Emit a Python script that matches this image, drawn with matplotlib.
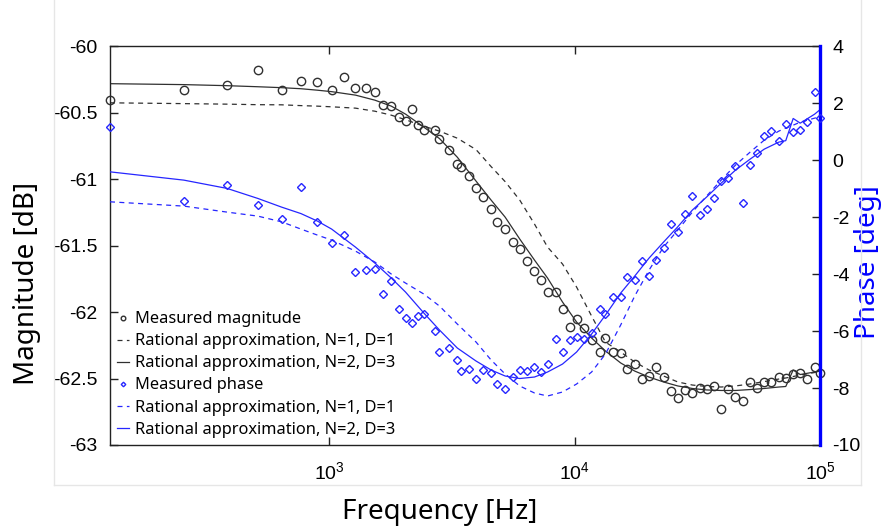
import numpy as np
import matplotlib.pyplot as plt
from matplotlib.lines import Line2D
from matplotlib.ticker import LogLocator, NullLocator, FuncFormatter

plt.rcParams['font.family'] = ['Liberation Sans', 'DejaVu Sans']
plt.rcParams['mathtext.fontset'] = 'custom'
plt.rcParams['mathtext.rm'] = 'Liberation Sans'
plt.rcParams['mathtext.it'] = 'Liberation Sans:italic'
plt.rcParams['mathtext.default'] = 'regular'

# measured frequencies [Hz]
freq = [128, 256, 384, 512, 640, 768, 896, 1024,
        1152, 1280, 1408, 1536, 1664, 1792, 1920, 2048, 2176, 2304, 2432,
        2688, 2816, 3072, 3328, 3456, 3712, 3968, 4224,
        4571, 4850, 5214, 5605, 5980, 6371, 6866, 7264, 7759, 8405, 8933, 9559,
        10190, 10940, 11730, 12650, 13360, 14360, 15410, 16410, 17580, 18860,
        20110, 21520, 23040, 24700, 26330, 28180, 30180, 32320, 34480, 36930,
        39550, 42280, 45240, 48360, 51890, 55420, 59250, 63290, 67880, 72510,
        77730, 83040, 88770, 95060, 100000]

mag_meas = [-60.401, -60.331, -60.291, -60.180, -60.326, -60.261, -60.271, -60.331,
            -60.235, -60.311, -60.311, -60.348, -60.444, -60.449, -60.536, -60.562,
            -60.476, -60.594, -60.632, -60.629, -60.698, -60.782, -60.889, -60.910,
            -60.976, -61.065, -61.135, -61.227, -61.323, -61.376, -61.474, -61.529,
            -61.613, -61.688, -61.756, -61.851, -61.851, -61.977, -62.113, -62.053,
            -62.120, -62.211, -62.302, -62.193, -62.302, -62.305, -62.427, -62.389,
            -62.502, -62.481, -62.410, -62.486, -62.592, -62.649, -62.590, -62.611,
            -62.573, -62.581, -62.554, -62.728, -62.580, -62.639, -62.668, -62.529,
            -62.570, -62.524, -62.523, -62.485, -62.498, -62.464, -62.462, -62.502,
            -62.410, -62.456]

phase_meas = [1.147, -1.432, -0.884, -1.561, -2.053, -0.930, -2.175, -2.905,
              -2.614, -3.937, -3.842, -3.807, -4.709, -4.235, -5.235, -5.554,
              -5.726, -5.474, -5.404, -5.989, -6.744, -6.589, -7.018, -7.393,
              -7.333, -7.684, -7.368, -7.463, -7.870, -8.025, -7.604, -7.368,
              -7.386, -7.256, -7.432, -7.140, -6.270, -6.726, -6.323, -6.200,
              -6.291, -6.081, -5.218, -5.404, -4.796, -4.796, -4.105, -4.211,
              -3.544, -4.081, -3.509, -3.095, -2.253, -2.516, -1.902, -1.256,
              -1.912, -1.730, -1.340, -0.719, -0.621, -0.211, -1.509, -0.186,
              0.235, 0.860, 1.011, 0.674, 1.256, 0.982, 1.053, 1.333,
              2.386, 1.484]

# frequencies where the fitted curves were read
fit_freq = [128, 256, 384, 512, 640, 768, 896, 1024, 1280, 1536, 1792, 2048,
            2432, 2816, 3328, 3968, 4571, 5214, 5980, 6866, 7759, 8933,
            10190, 11730, 13360, 15410, 17580, 20110, 23040, 26330, 30180, 34480,
            39550, 45240, 51890, 59250, 67880, 72510, 77730, 83040, 95060, 100000]

mag_fit_11 = [-60.426, -60.432, -60.436, -60.440, -60.441, -60.447, -60.451, -60.456,
              -60.466, -60.489, -60.519, -60.553, -60.602, -60.639, -60.692, -60.778,
              -60.906, -61.019, -61.158, -61.338, -61.511, -61.639, -61.812, -62.030,
              -62.226, -62.301, -62.376, -62.436, -62.481, -62.526, -62.549, -62.560,
              -62.564, -62.556, -62.541, -62.523, -62.504, -62.496, -62.485, -62.474,
              -62.455, -62.444]

mag_fit_23 = [-60.282, -60.289, -60.297, -60.305, -60.312, -60.320, -60.331, -60.342,
              -60.368, -60.406, -60.451, -60.511, -60.609, -60.695, -60.835, -61.015,
              -61.158, -61.286, -61.451, -61.609, -61.744, -61.925, -62.075, -62.195,
              -62.293, -62.383, -62.444, -62.489, -62.526, -62.556, -62.575, -62.586,
              -62.590, -62.590, -62.583, -62.575, -62.564, -62.560, -62.436, -62.470,
              -62.451, -62.444]

phase_fit_11 = [-1.463, -1.614, -1.825, -1.965, -2.165, -2.421, -2.632, -2.807,
                -3.193, -3.579, -4.000, -4.316, -4.702, -5.123, -5.754, -6.386,
                -7.018, -7.509, -7.930, -8.175, -8.281, -8.140, -7.860, -7.439,
                -6.807, -5.789, -4.772, -3.860, -3.053, -2.456, -1.825, -1.263,
                -0.702, -0.175, 0.281, 0.702, 1.018, 1.123, 1.228, 1.333,
                1.474, 1.519]

phase_fit_23 = [-0.411, -0.702, -0.993, -1.344, -1.649, -1.877, -2.140, -2.421,
                -3.053, -3.614, -4.140, -4.632, -5.368, -5.965, -6.596, -7.053,
                -7.368, -7.579, -7.667, -7.614, -7.439, -7.158, -6.737, -6.105,
                -5.439, -4.667, -4.070, -3.439, -2.877, -2.340, -1.754, -1.298,
                -0.807, -0.351, 0.035, 0.386, 0.632, 0.684, 1.463, 1.298,
                1.614, 1.772]

mag_ticks = [-63, -62.5, -62, -61.5, -61, -60.5, -60]
phase_ticks = [-10, -8, -6, -4, -2, 0, 2, 4]

black = '#303030'
blue = '#2626ff'
label_font = ['Noto Sans', 'DejaVu Sans']

fig = plt.figure(figsize=(8.87, 5.31), dpi=100)

# faint frame of the exported figure
fx0, fx1, fy0 = 54 / 887, 861 / 887, 1 - 485 / 531
frame_style = dict(color='#e6e6e6', lw=1.0, transform=fig.transFigure)
fig.add_artist(Line2D([fx0, fx0], [fy0, 1.0], **frame_style))
fig.add_artist(Line2D([fx1, fx1], [fy0, 1.0], **frame_style))
fig.add_artist(Line2D([fx0, fx1], [fy0, fy0], **frame_style))

ax = fig.add_axes([0.124, 0.162, 0.8005, 0.751])
ax2 = ax.twinx()

# magnitude (left axis)
h1, = ax.plot(freq, mag_meas, 'o', mfc='none', mec=black, ms=6, mew=1.0,
              clip_on=False, zorder=4, label='Measured magnitude')
h2, = ax.plot(fit_freq, mag_fit_11, '--', color=black, lw=0.9, dashes=(4, 3.5),
              label='Rational approximation, N=1, D=1')
h3, = ax.plot(fit_freq, mag_fit_23, '-', color=black, lw=0.9,
              label='Rational approximation, N=2, D=3')

# phase (right axis)
h4, = ax2.plot(freq, phase_meas, 'D', mfc='none', mec=blue, ms=4.2, mew=1.0,
               clip_on=False, zorder=4, label='Measured phase')
h5, = ax2.plot(fit_freq, phase_fit_11, '--', color=blue, lw=0.9, dashes=(4, 3.5),
               label='Rational approximation, N=1, D=1')
h6, = ax2.plot(fit_freq, phase_fit_23, '-', color=blue, lw=0.9,
               label='Rational approximation, N=2, D=3')

ax.set_xscale('log')
ax.set_xlim(128, 1e5)
ax.xaxis.set_major_locator(LogLocator(base=10, numticks=10))
ax.xaxis.set_minor_locator(NullLocator())
ax.set_ylim(-63, -60)
ax.set_yticks(mag_ticks)
ax.yaxis.set_major_formatter(FuncFormatter(lambda v, p: '%g' % v))
ax2.set_ylim(-10, 4)
ax2.set_yticks(phase_ticks)
ax2.yaxis.set_major_formatter(FuncFormatter(lambda v, p: '%g' % v))

ax.tick_params(axis='both', direction='in', length=6, width=1, labelsize=14,
               top=True, right=False, color='#222222')
ax.tick_params(axis='y', pad=9)
ax.tick_params(axis='x', pad=12)
ax2.tick_params(axis='y', direction='in', length=6, width=1, labelsize=14, pad=9,
                color='#222222')

for s in ['left', 'top', 'bottom']:
    ax.spines[s].set_color('#222222')
    ax.spines[s].set_linewidth(1.0)
ax.spines['right'].set_visible(False)
for s in ['left', 'top', 'bottom']:
    ax2.spines[s].set_visible(False)
ax2.spines['right'].set_color('blue')
ax2.spines['right'].set_linewidth(2.4)

ax.set_xlabel('Frequency [Hz]', fontsize=20, family=label_font)
ax.xaxis.set_label_coords(0.465, -0.133)
ax.set_ylabel('Magnitude [dB]', fontsize=20, family=label_font)
ax.yaxis.set_label_coords(-0.097, 0.404)
ax2.set_ylabel('Phase [deg]', fontsize=20, family=label_font, color='blue')
ax2.yaxis.set_label_coords(1.048, 0.459)

ax2.legend(handles=[h1, h2, h3, h4, h5, h6], loc='lower left', frameon=False,
           prop={'family': label_font, 'size': 11.8},
           handlelength=0.7, handletextpad=0.38, labelspacing=0.37,
           markerscale=0.55, borderaxespad=0.25, borderpad=0.2)

fig.savefig('out.png', dpi=100)
